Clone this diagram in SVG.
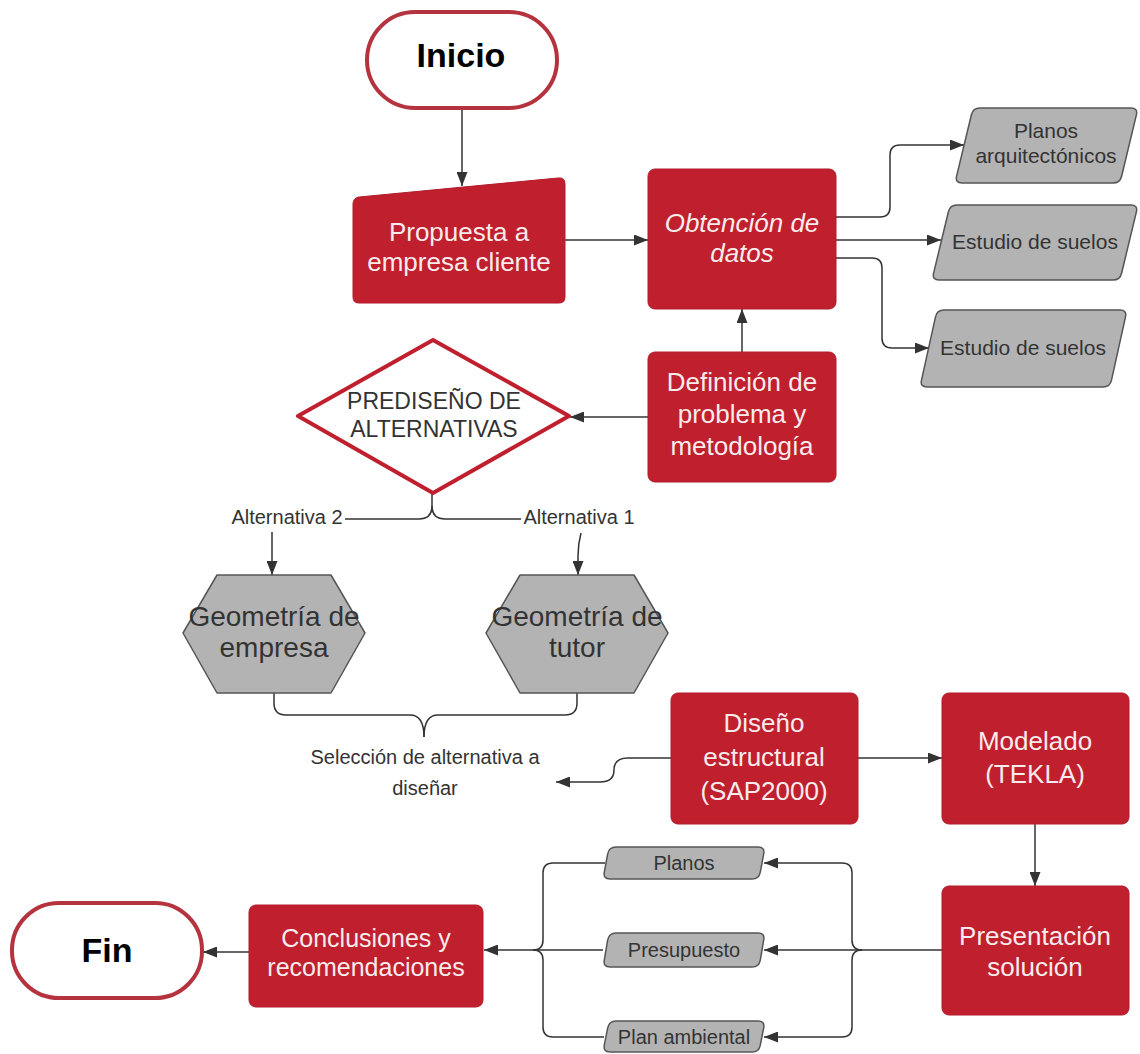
<svg xmlns="http://www.w3.org/2000/svg" width="1140" height="1054" viewBox="0 0 1140 1054">
<defs>
<marker id="arr" markerUnits="userSpaceOnUse" markerWidth="15" markerHeight="11" refX="14" refY="5.5" orient="auto">
<path d="M0,0 L14,5.5 L0,11 Z" fill="#333"/>
</marker>
<style>
.red{fill:#C01F2E;stroke:#B21B2A;stroke-width:1}
.gray{fill:#B3B3B3;stroke:#555;stroke-width:1.5;stroke-linejoin:round}
.term{fill:#fff;stroke:#B5333E;stroke-width:4}
.wt{font-family:"Liberation Sans",Arial,sans-serif;fill:#F7EBEC;text-anchor:middle}
.dt{font-family:"Liberation Sans",Arial,sans-serif;fill:#333;text-anchor:middle}
.bt{font-family:"Liberation Sans",Arial,sans-serif;fill:#000;text-anchor:middle;font-weight:bold}
.c{fill:none;stroke:#333;stroke-width:1.5}
.ca{fill:none;stroke:#333;stroke-width:1.5;marker-end:url(#arr)}
</style>
</defs>
<rect width="1140" height="1054" fill="#fff"/>

<g id="connectors">
<path class="ca" d="M462,108 V186"/>
<path class="ca" d="M565,240 H648"/>
<path class="ca" d="M836,217 H880 Q890,217 890,207 V155 Q890,145 900,145 H964"/>
<path class="ca" d="M836,240 H941"/>
<path class="ca" d="M836,258 H872 Q882,258 882,268 V338 Q882,348 892,348 H929"/>
<path class="ca" d="M742,352 V309"/>
<path class="ca" d="M648,417 H570"/>
<path class="c" d="M432,493 V506 Q432,519 419,519 H345"/>
<path class="c" d="M432,506 Q432,519 445,519 H521"/>
<path class="ca" d="M272,532 V575"/>
<path class="ca" d="M581,533 Q578,544 578,556 V575"/>
<path class="c" d="M274,693 V703 Q274,715 286,715 H410 Q424,715 424,737"/>
<path class="c" d="M577,693 V703 Q577,715 565,715 H438 Q424,715 424,737"/>
<path class="ca" d="M671,758 H628 Q614,758 614,770 Q614,782 600,782 H556"/>
<path class="ca" d="M858,758 H942"/>
<path class="ca" d="M1035,824 V886"/>
<path class="c" d="M942,950 H862"/>
<path class="ca" d="M862,950 Q852,950 852,940 V873 Q852,863 842,863 H764"/>
<path class="ca" d="M862,950 Q852,950 852,960 V1027 Q852,1037 842,1037 H764"/>
<path class="ca" d="M862,950 H764"/>
<path class="c" d="M605,863 H553 Q543,863 543,873 V940 Q543,950 533,950"/>
<path class="c" d="M604,1037 H553 Q543,1037 543,1027 V960 Q543,950 533,950"/>
<path class="c" d="M603,950 H533"/>
<path class="ca" d="M533,950 H484"/>
<path class="ca" d="M249,952 H203"/>
</g>

<g id="inicio">
<rect class="term" x="367" y="12" width="190" height="96" rx="48"/>
<text class="bt" x="461" y="67" font-size="34">Inicio</text>
</g>

<g id="propuesta">
<path class="red" d="M353,204 Q353,198 359,197 L558,178 Q565,177 565,184 L565,297 Q565,303 559,303 L359,303 Q353,303 353,297 Z"/>
<text class="wt" font-size="26"><tspan x="459" y="241">Propuesta a</tspan><tspan x="459" y="271">empresa cliente</tspan></text>
</g>

<g id="obtencion">
<rect class="red" x="648" y="169" width="188" height="140" rx="7"/>
<text class="wt" font-size="26" font-style="italic"><tspan x="742" y="232">Obtención de</tspan><tspan x="742" y="262">datos</tspan></text>
</g>

<g id="planos-arq">
<path class="gray" d="M980,108 H1131 Q1138,108 1136.4,114.8 L1121.6,176.2 Q1120,183 1113,183 H962 Q955,183 956.6,176.2 L971.4,114.8 Q973,108 980,108 Z"/>
<text class="dt" font-size="21"><tspan x="1046" y="138">Planos</tspan><tspan x="1046" y="163">arquitectónicos</tspan></text>
</g>

<g id="estudio1">
<path class="gray" d="M957,205 H1131 Q1138,205 1136.4,211.8 L1121.6,273.2 Q1120,280 1113,280 H939 Q932,280 933.6,273.2 L948.4,211.8 Q950,205 957,205 Z"/>
<text class="dt" font-size="21" x="1035" y="249">Estudio de suelos</text>
</g>

<g id="estudio2">
<path class="gray" d="M944,310 H1120 Q1127,310 1125.5,316.8 L1111.5,380.2 Q1110,387 1103,387 H927 Q920,387 921.5,380.2 L935.5,316.8 Q937,310 944,310 Z"/>
<text class="dt" font-size="21" x="1023" y="355">Estudio de suelos</text>
</g>

<g id="definicion">
<rect class="red" x="648" y="352" width="188" height="130" rx="7"/>
<text class="wt" font-size="26"><tspan x="742" y="391">Definición de</tspan><tspan x="742" y="423">problema y</tspan><tspan x="742" y="455">metodología</tspan></text>
</g>

<g id="prediseno">
<polygon points="433,340 569,416 433,493 298,416" fill="#fff" stroke="#C01F2E" stroke-width="4" stroke-linejoin="round"/>
<text class="dt" font-size="23"><tspan x="434" y="409">PREDISEÑO DE</tspan><tspan x="434" y="437">ALTERNATIVAS</tspan></text>
</g>

<g id="labels-alt">
<text class="dt" font-size="20" x="287" y="524">Alternativa 2</text>
<text class="dt" font-size="20" x="579" y="524">Alternativa 1</text>
</g>

<g id="geo-empresa">
<polygon class="gray" points="217,575 331,575 365,633 331,693 217,693 183,633"/>
<text class="dt" font-size="28"><tspan x="274" y="626">Geometría de</tspan><tspan x="274" y="657">empresa</tspan></text>
</g>

<g id="geo-tutor">
<polygon class="gray" points="520,575 634,575 668,633 634,693 520,693 486,633"/>
<text class="dt" font-size="28"><tspan x="577" y="626">Geometría de</tspan><tspan x="577" y="657">tutor</tspan></text>
</g>

<g id="seleccion">
<text class="dt" font-size="20"><tspan x="425" y="764">Selección de alternativa a</tspan><tspan x="425" y="795">diseñar</tspan></text>
</g>

<g id="diseno">
<rect class="red" x="671" y="693" width="187" height="131" rx="7"/>
<text class="wt" font-size="26"><tspan x="764" y="732">Diseño</tspan><tspan x="764" y="766">estructural</tspan><tspan x="764" y="800">(SAP2000)</tspan></text>
</g>

<g id="modelado">
<rect class="red" x="942" y="693" width="187" height="131" rx="7"/>
<text class="wt" font-size="26"><tspan x="1035" y="750">Modelado</tspan><tspan x="1035" y="783">(TEKLA)</tspan></text>
</g>

<g id="presentacion">
<rect class="red" x="942" y="886" width="187" height="129" rx="7"/>
<text class="wt" font-size="26"><tspan x="1035" y="945">Presentación</tspan><tspan x="1035" y="976">solución</tspan></text>
</g>

<g id="planos">
<path class="gray" d="M616,847 H758 Q765,847 763.7,853.9 L760.3,872.1 Q759,879 752,879 H610 Q603,879 604.3,872.1 L607.7,853.9 Q609,847 616,847 Z"/>
<text class="dt" font-size="20" x="684" y="870">Planos</text>
</g>

<g id="presupuesto">
<path class="gray" d="M616,933 H758 Q765,933 763.7,939.9 L760.3,960.1 Q759,967 752,967 H610 Q603,967 604.3,960.1 L607.7,939.9 Q609,933 616,933 Z"/>
<text class="dt" font-size="20" x="684" y="957">Presupuesto</text>
</g>

<g id="plan-ambiental">
<path class="gray" d="M616,1021 H758 Q765,1021 763.7,1027.9 L760.3,1045.1 Q759,1052 752,1052 H610 Q603,1052 604.3,1045.1 L607.7,1027.9 Q609,1021 616,1021 Z"/>
<text class="dt" font-size="20" x="684" y="1044">Plan ambiental</text>
</g>

<g id="conclusiones">
<rect class="red" x="249" y="905" width="234" height="102" rx="7"/>
<text class="wt" font-size="25"><tspan x="366" y="947">Conclusiones y</tspan><tspan x="366" y="976">recomendaciones</tspan></text>
</g>

<g id="fin">
<rect class="term" x="12" y="903" width="190" height="95" rx="47"/>
<text class="bt" x="107" y="962" font-size="34">Fin</text>
</g>
</svg>
